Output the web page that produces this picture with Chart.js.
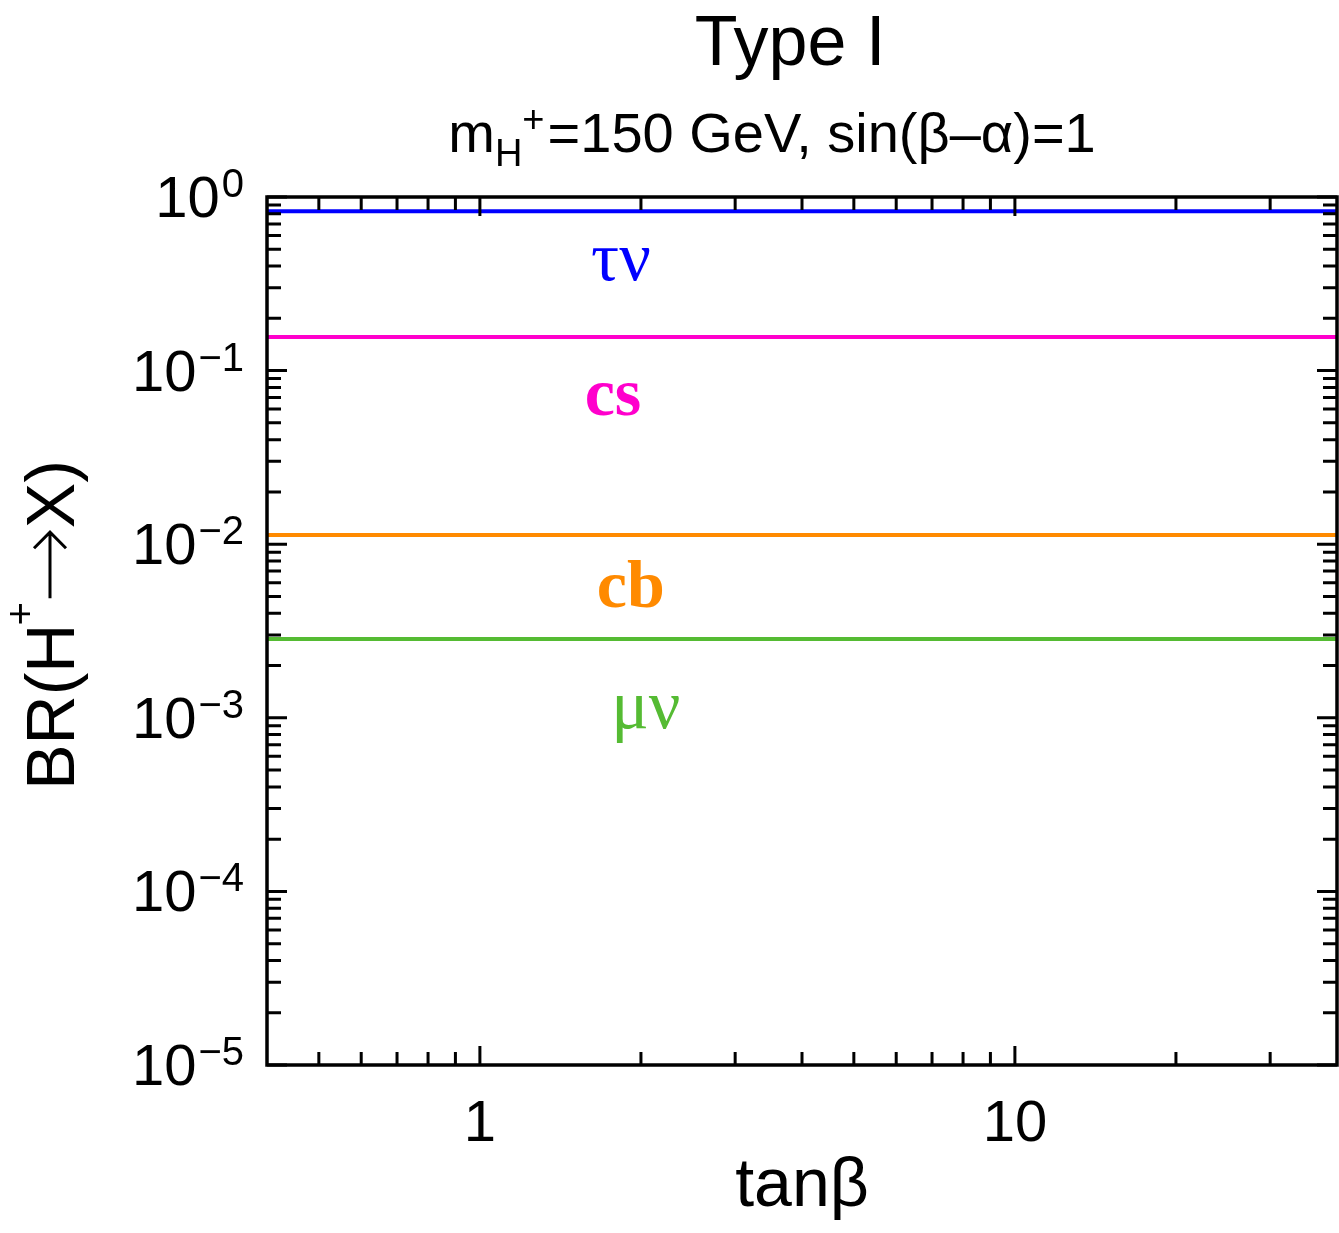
<!DOCTYPE html>
<html>
<head>
<meta charset="utf-8">
<script src="https://cdn.jsdelivr.net/npm/chart.js@4.4.0/dist/chart.umd.min.js"></script>
<style>
  html, body { margin: 0; padding: 0; background: #fff; }
  canvas { display: block; }
</style>
</head>
<body>
<canvas id="brChart" width="1339" height="1233"></canvas>
<script>
// tan(beta) sample points
const tanBeta = [0.4, 1, 10, 40];

// branching ratios (flat in tan(beta) for Type I)
const brTauNu = [0.827, 0.827, 0.827, 0.827];
const brCS = [0.156, 0.156, 0.156, 0.156];
const brCB = [0.0113, 0.0113, 0.0113, 0.0113];
const brMuNu = [0.00284, 0.00284, 0.00284, 0.00284];

const seriesNames = ["τν", "cs", "cb", "μν"];
const seriesValues = [brTauNu, brCS, brCB, brMuNu];
const seriesColors = ["#0000ff", "#ff00cc", "#ff8a00", "#55bb33"];

// where each channel name sits, in (tanβ, BR)
const nameTanBeta = [1.835, 1.773, 1.915, 2.043];
const nameBR = [0.334, 0.0558, 0.00436, 0.000875];

// axis ticks
const xMajor = [1, 10];
const xMajorLabels = ["1", "10"];
const xMinor = [0.5, 0.6, 0.7, 0.8, 0.9, 2, 3, 4, 5, 6, 7, 8, 9, 20, 30];
const yExponents = [0, -1, -2, -3, -4, -5];

const SANS = '"Liberation Sans", Arial, Helvetica, sans-serif';
const SERIF = '"Liberation Serif", "Times New Roman", serif';

// draws the frame, inward ticks on all sides and all the text
const axesPlugin = {
  id: "axesPlugin",
  afterDraw(chart) {
    const { ctx, chartArea: a, scales: { x, y } } = chart;
    ctx.save();
    ctx.strokeStyle = "#000";
    ctx.fillStyle = "#000";
    ctx.lineWidth = 3;

    const xTick = (v, len) => {
      const px = x.getPixelForValue(v);
      ctx.beginPath();
      ctx.moveTo(px, a.bottom); ctx.lineTo(px, a.bottom - len);
      ctx.moveTo(px, a.top); ctx.lineTo(px, a.top + len);
      ctx.stroke();
    };
    const yTick = (v, len) => {
      const py = y.getPixelForValue(v);
      ctx.beginPath();
      ctx.moveTo(a.left, py); ctx.lineTo(a.left + len, py);
      ctx.moveTo(a.right, py); ctx.lineTo(a.right - len, py);
      ctx.stroke();
    };

    xMinor.forEach(v => xTick(v, 13));
    xMajor.forEach(v => xTick(v, 19));
    yExponents.forEach(e => {
      yTick(Math.pow(10, e), 20);
      if (e > -5) {
        for (let k = 2; k <= 9; k++) yTick(k * Math.pow(10, e - 1), 14);
      }
    });

    ctx.lineWidth = 3.5;
    ctx.strokeRect(a.left, a.top, a.right - a.left, a.bottom - a.top);

    // y tick labels 10^n
    ctx.textBaseline = "alphabetic";
    yExponents.forEach(e => {
      const py = y.getPixelForValue(Math.pow(10, e));
      const exp = e === 0 ? "0" : "\u2212" + (-e);
      ctx.font = "40px " + SANS;
      const wExp = ctx.measureText(exp).width;
      ctx.font = "58px " + SANS;
      const wBase = ctx.measureText("10").width;
      const right = a.left - 23;
      ctx.textAlign = "left";
      ctx.fillText("10", right - wExp - wBase - 2, py + 20);
      ctx.font = "40px " + SANS;
      ctx.fillText(exp, right - wExp, py);
    });

    // x tick labels
    ctx.font = "58px " + SANS;
    ctx.textAlign = "center";
    xMajor.forEach((v, i) => {
      ctx.fillText(xMajorLabels[i], x.getPixelForValue(v), a.bottom + 76);
    });

    // x axis title
    ctx.font = "68px " + SANS;
    ctx.fillText("tanβ", (a.left + a.right) / 2, 1206);

    // title
    ctx.font = "70px " + SANS;
    ctx.fillText("Type I", 790, 65);

    // subtitle: m_H^+ =150 GeV, sin(β–α)=1
    const bigF = "56px " + SANS, smallF = "38px " + SANS;
    const rest = "=150 GeV, sin(β\u2013α)=1";
    ctx.font = bigF;
    const wM = ctx.measureText("m").width;
    const wRest = ctx.measureText(rest).width;
    ctx.font = smallF;
    const wH = ctx.measureText("H").width;
    const wPlus = ctx.measureText("+").width;
    const total = wM + wH + wPlus + 3 + wRest;
    let sx = 772 - total / 2;
    const sBase = 152;
    ctx.textAlign = "left";
    ctx.font = bigF;
    ctx.fillText("m", sx, sBase); sx += wM;
    ctx.font = smallF;
    ctx.fillText("H", sx, sBase + 14); sx += wH;
    ctx.fillText("+", sx, sBase - 20); sx += wPlus + 3;
    ctx.font = bigF;
    ctx.fillText(rest, sx, sBase);

    // y axis title, rotated: BR(H^+ -> X)
    ctx.save();
    ctx.translate(74, 625);
    ctx.rotate(-Math.PI / 2);
    const yF = "68px " + SANS, ySup = "40px " + SANS;
    const arrowLen = 66;
    ctx.font = yF;
    const p1 = "BR(H", p2 = "X)";
    const w1 = ctx.measureText(p1).width, w2 = ctx.measureText(p2).width;
    ctx.font = ySup;
    const wSup = ctx.measureText("+").width;
    const total2 = w1 + wSup + 2 + arrowLen + 4 + w2;
    let tx = -total2 / 2;
    ctx.font = yF;
    ctx.fillText(p1, tx, 0); tx += w1;
    ctx.font = ySup;
    ctx.fillText("+", tx - 2, -40); tx += wSup + 2;
    // long arrow
    const ay = -24;
    ctx.lineWidth = 3;
    ctx.beginPath();
    ctx.moveTo(tx, ay); ctx.lineTo(tx + arrowLen - 2, ay);
    ctx.moveTo(tx + arrowLen - 16, ay - 16); ctx.lineTo(tx + arrowLen, ay); ctx.lineTo(tx + arrowLen - 16, ay + 16);
    ctx.stroke();
    tx += arrowLen + 4;
    ctx.font = yF;
    ctx.fillText(p2, tx, 0);
    ctx.restore();

    // channel names on the plot
    ctx.textAlign = "center";
    seriesNames.forEach((name, i) => {
      const greek = i === 0 || i === 3;
      ctx.font = (greek ? "" : "bold ") + (greek ? "70px " : "68px ") + SERIF;
      ctx.fillStyle = seriesColors[i];
      ctx.fillText(name, x.getPixelForValue(nameTanBeta[i]), y.getPixelForValue(nameBR[i]));
    });

    ctx.restore();
  }
};

new Chart(document.getElementById("brChart"), {
  type: "line",
  data: {
    datasets: seriesNames.map((name, i) => ({
      label: name,
      data: tanBeta.map((t, j) => ({ x: t, y: seriesValues[i][j] })),
      borderColor: seriesColors[i],
      borderWidth: 4,
      pointRadius: 0,
      fill: false
    }))
  },
  options: {
    responsive: false,
    animation: false,
    devicePixelRatio: 1,
    layout: { padding: { left: 267, top: 197, right: 2, bottom: 168 } },
    plugins: { legend: { display: false }, tooltip: { enabled: false } },
    scales: {
      x: { type: "logarithmic", min: 0.4, max: 40, display: false },
      y: { type: "logarithmic", min: 1e-5, max: 1, display: false }
    }
  },
  plugins: [axesPlugin]
});
</script>
</body>
</html>
